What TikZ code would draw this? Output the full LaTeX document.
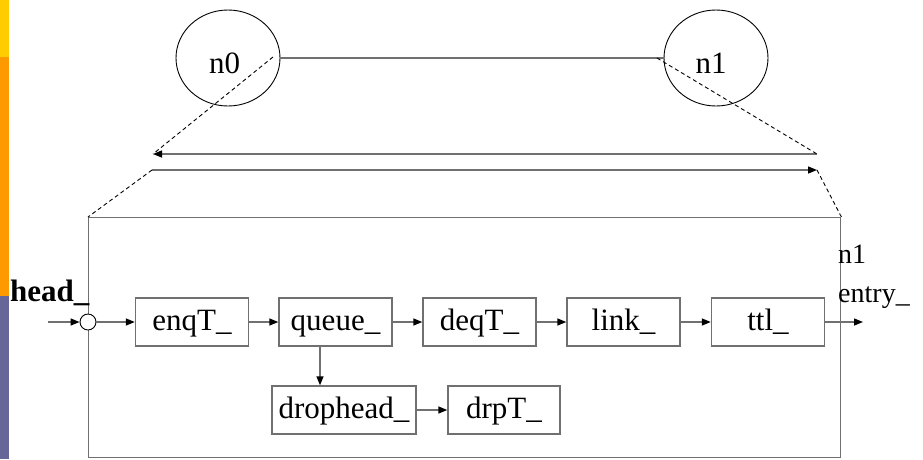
\documentclass[tikz,border=0pt]{standalone}
\usepackage{fontspec}
\setmainfont{Liberation Serif}
\usetikzlibrary{arrows.meta,shapes.geometric}
\definecolor{linegray}{RGB}{112,112,112}
\definecolor{baryellow}{RGB}{255,204,0}
\definecolor{barorange}{RGB}{255,153,0}
\definecolor{barpurple}{RGB}{102,102,153}
\tikzset{
  boxtext/.style={font=\fontsize{31}{31}\selectfont},
  stagebox/.style={draw=linegray, line width=1.4pt, boxtext, minimum height=48pt, inner sep=0pt, text height=22pt, text depth=5pt},
  nodeellipse/.style={draw=black, line width=0.9pt, ellipse, minimum width=104pt, minimum height=96pt, inner sep=0pt},
  lab/.style={inner sep=0pt, font=\fontsize{28}{28}\selectfont},
  conn/.style={draw=linegray, line width=1.4pt},
  arr/.style={conn, -{Triangle[length=9pt,width=7pt,color=black]}},
  dashline/.style={draw=black, line width=0.9pt, dash pattern=on 4pt off 3pt},
}
\begin{document}
\begin{tikzpicture}[x=1pt,y=-1pt]
\useasboundingbox (0,0) rectangle (923,459);
% side bar
\fill[baryellow] (0,0) rectangle (9,57);
\fill[barorange] (0,57) rectangle (9,296);
\fill[barpurple] (0,296) rectangle (9,459);

% top ellipses
\node[nodeellipse] (n0) at (228,58) {};
\node[nodeellipse] (n1) at (716,58) {};
\node[lab, anchor=base, font=\fontsize{31}{31}\selectfont] (n0lab) at (224.5,73) {n0};
\node[lab, anchor=base, font=\fontsize{31}{31}\selectfont] (n1lab) at (711,73) {n1};
\draw[conn] (n0.east) -- (n1.west);

% frame
\node[draw=linegray, line width=1.4pt, minimum width=752pt, minimum height=240pt, inner sep=0pt, anchor=north west] (frame) at (88,217) {};

% link arrows
\coordinate (d0) at (273,57);
\coordinate (d1) at (657,58);
\coordinate (la) at (153,154);
\coordinate (ra) at (817,154);
\coordinate (lb) at (152,170);
\coordinate (rb) at (817,170);
\draw[arr] (ra) -- (la);
\draw[arr] (lb) -- (rb);
\draw[dashline] (d0) -- (la);
\draw[dashline] (d1) -- (ra);
\draw[dashline] (lb) -- (frame.north west);
\draw[dashline] (rb) -- (frame.north east);

% stages
\node[stagebox, minimum width=113pt] (enq) at (192,322) {enqT\_};
\node[stagebox, minimum width=113pt] (queue) at (335.5,322) {queue\_};
\node[stagebox, minimum width=113pt] (deq) at (479.5,322) {deqT\_};
\node[stagebox, minimum width=113pt] (link) at (623.5,322) {link\_};
\node[stagebox, minimum width=113pt] (ttl) at (768,322) {ttl\_};
\node[stagebox, minimum width=144pt] (drophead) at (344,410) {drophead\_};
\node[stagebox, minimum width=112pt] (drpT) at (504,410) {drpT\_};

% junction
\node[circle, draw=black, fill=white, line width=0.9pt, minimum size=16pt, inner sep=0pt] (j) at (88,322) {};
\coordinate (in) at (48,322);
\coordinate (out) at (863,322);

\draw[arr] (in) -- (j.west);
\draw[arr] (j.east) -- (enq.west);
\draw[arr] (enq.east) -- (queue.west);
\draw[arr] (queue.east) -- (deq.west);
\draw[arr] (deq.east) -- (link.west);
\draw[arr] (link.east) -- (ttl.west);
\draw[arr] (ttl.east) -- (out);
\draw[arr] ([xshift=-15.5pt]queue.south) -- ([xshift=-15.5pt]queue.south |- drophead.north);
\draw[arr] (drophead.east) -- (drpT.west);

% labels
\node[inner sep=0pt, anchor=base west, font=\bfseries\fontsize{31}{31}\selectfont] (headlab) at (10,301) {head\_};
\node[lab, anchor=base west] (entrylab1) at (838,263) {n1};
\node[lab, anchor=base west] (entrylab2) at (838,302) {entry\_};
\end{tikzpicture}
\end{document}
